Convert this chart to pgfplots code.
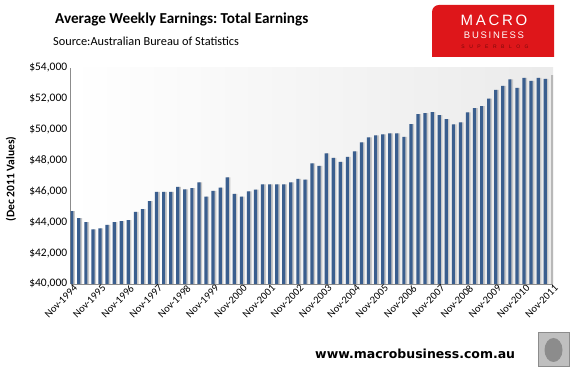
\documentclass[border=0pt]{standalone}
\usepackage{fontspec}
\setmainfont{Carlito}
\newfontfamily\logofont[LetterSpace=18]{Liberation Sans}
\newfontfamily\superfont[LetterSpace=90]{Liberation Sans}
\newfontfamily\webfont{DejaVu Sans}
\usepackage{pgfplots}
\pgfplotsset{compat=1.18}
\usepackage{pgfplotstable}
\definecolor{barblue}{RGB}{58,94,142}
\definecolor{logored}{RGB}{222,22,26}
\definecolor{logodark}{RGB}{120,10,10}
\pgfplotstableread{
x y
0 44720
1 44270
2 44010
3 43540
4 43600
5 43820
6 44010
7 44070
8 44140
9 44660
10 44850
11 45370
12 45970
13 45970
14 45970
15 46290
16 46130
17 46210
18 46580
19 45650
20 46030
21 46230
22 46900
23 45840
24 45650
25 46000
26 46100
27 46450
28 46450
29 46450
30 46450
31 46580
32 46810
33 46750
34 47810
35 47650
36 48450
37 48170
38 47910
39 48230
40 48580
41 49170
42 49490
43 49620
44 49680
45 49750
46 49750
47 49530
48 50350
49 51000
50 51060
51 51130
52 50930
53 50670
54 50330
55 50460
56 51110
57 51380
58 51510
59 51990
60 52570
61 52830
62 53240
63 52700
64 53340
65 53150
66 53340
67 53280
}\earnings
\pgfplotstableread{
x y
68 53520
}\lastbar
\begin{document}
\frenchspacing
\begin{tikzpicture}
\begin{axis}[
  at={(70.7pt,90pt)}, anchor=south west,
  scale only axis, width=482.3pt, height=216.3pt,
  xmin=-0.15, xmax=68.1,
  ymin=40000, ymax=54000,
  scaled y ticks=false,
  axis lines*=left,
  axis line style={black!45, line width=0.8pt},
  axis background/.style={left color=white, right color=black!8},
  xtick={0,4,...,68},
  xticklabels={Nov-1994,Nov-1995,Nov-1996,Nov-1997,Nov-1998,Nov-1999,Nov-2000,Nov-2001,Nov-2002,Nov-2003,Nov-2004,Nov-2005,Nov-2006,Nov-2007,Nov-2008,Nov-2009,Nov-2010,Nov-2011},
  xticklabel style={rotate=45, anchor=north east, font=\fontsize{10.5}{12}\selectfont, inner sep=1pt, xshift=2pt},
  x tick style={black!45},
  tick align=inside,
  major tick length=2.5pt,
  ytick={40000,42000,...,54000},
  yticklabels={\$40{,}000,\$42{,}000,\$44{,}000,\$46{,}000,\$48{,}000,\$50{,}000,\$52{,}000,\$54{,}000},
  yticklabel style={font=\fontsize{11.5}{13}\selectfont},
  y tick style={draw=none},
  clip=true,
]
\addplot[ybar, bar width=3.2pt, bar shift=1.6pt, fill=black!22, draw=none, forget plot] table[x=x,y=y] {\earnings};
\addplot[ybar, bar width=3.2pt, bar shift=0pt, fill=barblue, draw=none] table[x=x,y=y] {\earnings};
\addplot[ybar, bar width=3.2pt, bar shift=0pt, fill=black!28, draw=none] table[x=x,y=y] {\lastbar};
\end{axis}
\pgfresetboundingbox
\useasboundingbox (0pt,0pt) rectangle (573pt,374pt);
% y label
\node[rotate=90, font=\bfseries\fontsize{11.5}{13}\selectfont, inner sep=0pt] at (11pt,195pt) {(Dec 2011 Values)};
% title
\node[anchor=base west, inner sep=0pt, font=\bfseries\fontsize{15.2}{18}\selectfont] at (55pt,350pt) {Average Weekly Earnings: Total Earnings};
\node[anchor=base west, inner sep=0pt, font=\fontsize{12.3}{14}\selectfont] at (53pt,328pt) {Source:Australian Bureau of Statistics};
% logo
\fill[logored] (432pt,317pt) -- (432pt,362pt) arc (180:90:7pt) -- (554pt,369pt) -- (554pt,317pt) -- cycle;
\node[white, font=\logofont\fontsize{15}{15}\selectfont, inner sep=0pt] at (494pt,353.5pt) {MACRO};
\node[white, font=\logofont\fontsize{9.5}{10}\selectfont, inner sep=0pt] at (494pt,338.3pt) {BUSINESS};
\node[logodark, font=\superfont\fontsize{5}{5}\selectfont, inner sep=0pt] at (495pt,327.5pt) {SUPERBLOG};
% web
\node[anchor=base west, inner sep=0pt, font=\webfont\bfseries\fontsize{12.5}{14}\selectfont] at (315pt,15pt) {www.macrobusiness.com.au};
% wolf box
\draw[black!45, fill=black!25, line width=1pt] (538pt,7pt) rectangle (569pt,41pt);
\fill[black!45] (553.5pt,24pt) ellipse (9pt and 12pt);
\end{tikzpicture}
\end{document}
